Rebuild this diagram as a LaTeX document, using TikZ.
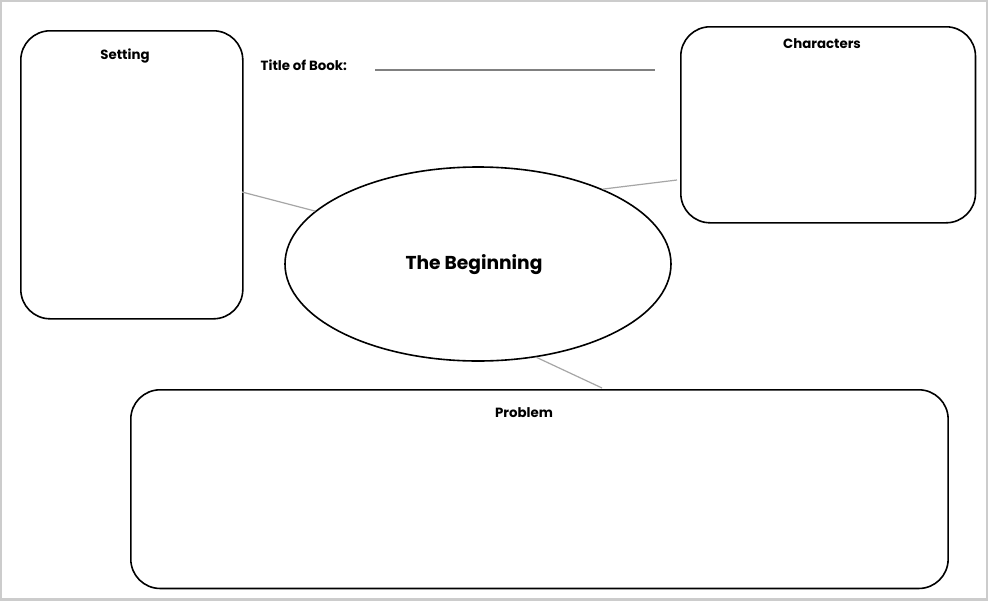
\documentclass[tikz,border=0pt]{standalone}
\usepackage{fontspec}
\setmainfont{Poppins}
\usetikzlibrary{shapes.geometric}
\tikzset{
  panel/.style={draw, line width=1.2pt, rounded corners=22pt, rectangle, anchor=north west, inner sep=0pt},
  heading/.style={font=\bfseries\fontsize{10}{12}\selectfont},
  link/.style={draw=gray!70, line width=0.9pt}
}
\begin{document}
\begin{tikzpicture}[x=0.75pt,y=0.75pt,yscale=-1,xscale=1]
\useasboundingbox (0,0) rectangle (988,600);
% frame
\fill[white] (0,0) rectangle (988,600);
\draw[gray!40, line width=3pt] (0,0) rectangle (988,600);

% boxes
\node[panel, minimum width=166.5pt, minimum height=216pt] (setting) at (20,30) {};
\node[panel, minimum width=221pt, minimum height=147pt] (characters) at (680,26) {};
\node[panel, minimum width=613pt, minimum height=149pt] (problem) at (130,389) {};
\node[draw, ellipse, line width=1.2pt, minimum width=289.5pt, minimum height=145.5pt] (begin) at (478,264) {};

% headings
\node[heading] (settinglbl) at (125,56) {Setting};
\node[heading] (characterslbl) at (822,44) {Characters};
\node[heading] (problemlbl) at (524,413) {Problem};
\node[font=\bfseries\fontsize{14}{16}\selectfont] (beginlbl) at (474,265) {The Beginning};
\node[heading, anchor=west] (title) at (256,65) {Title of Book:};
\draw[gray, line width=0.8pt] (375,70) -- (655,70);

% connectors
\coordinate (sjoin) at (242,192);
\coordinate (cjoin) at (677,180);
\coordinate (pjoin) at (602,388);
\draw[link] (begin.162) -- (sjoin);
\draw[link] (begin.31) -- (cjoin);
\draw[link] (begin.-58) -- (pjoin);
\end{tikzpicture}
\end{document}
